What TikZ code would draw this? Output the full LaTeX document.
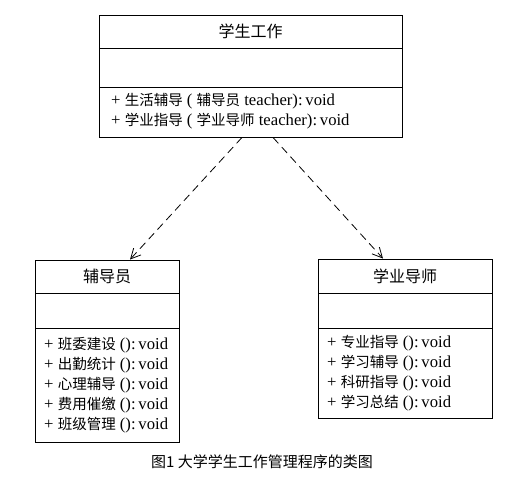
\documentclass[tikz,border=0pt]{standalone}
\usepackage{fontspec}
\setmainfont{Liberation Serif}[Scale=1.15]
\newfontfamily\zh{Noto Sans CJK SC}
\usetikzlibrary{arrows.meta}

\begin{document}
\begin{tikzpicture}[x=1pt, y=-1pt,
  part/.style={draw, line width=0.9pt, inner sep=0pt},
  title/.style={font=\zh\fontsize{16}{18}\selectfont},
  ops/.style={anchor=west, align=left, inner sep=0pt, font=\fontsize{14.5}{20}\selectfont},
  dep/.style={line width=0.8pt, dash pattern=on 8pt off 5pt, -{Straight Barb[length=10pt, width=10pt]}}]
%\draw [help lines, step=20] (0,0) grid (525,481);
\useasboundingbox (0,0) rectangle (525,481);

% student work
\node [part, minimum width=303pt, minimum height=33pt] (sw1) at (250.5,31.5) {};
\node [part, minimum width=303pt, minimum height=39pt] (sw2) at (250.5,67.5) {};
\node [part, minimum width=303pt, minimum height=50pt] (sw3) at (250.5,112) {};
\node [title] (swname) at (sw1) {学生工作};
\node [ops] (swops) at (111,111) {+ {\zh 生活辅导} ( {\zh 辅导员} teacher):\,void\\+ {\zh 学业指导} ( {\zh 学业导师} teacher):\,void};

% counsellor
\node [part, minimum width=144pt, minimum height=33pt] (fdy1) at (107,276.5) {};
\node [part, minimum width=144pt, minimum height=35pt] (fdy2) at (107,310.5) {};
\node [part, minimum width=144pt, minimum height=114pt] (fdy3) at (107,385) {};
\node [title] (fdyname) at (fdy1) {辅导员};
\node [ops] (fdyops) at (44,385) {+ {\zh 班委建设} ():\,void\\+ {\zh 出勤统计} ():\,void\\+ {\zh 心理辅导} ():\,void\\+ {\zh 费用催缴} ():\,void\\+ {\zh 班级管理} ():\,void};

% tutor
\node [part, minimum width=174pt, minimum height=34pt] (ds1) at (405,276) {};
\node [part, minimum width=174pt, minimum height=35pt] (ds2) at (405,310.5) {};
\node [part, minimum width=174pt, minimum height=90pt] (ds3) at (405,373) {};
\node [title] (dsname) at (ds1) {学业导师};
\node [ops] (dsops) at (327,373) {+ {\zh 专业指导} ():\,void\\+ {\zh 学习辅导} ():\,void\\+ {\zh 科研指导} ():\,void\\+ {\zh 学习总结} ():\,void};

\draw [dep] ([xshift=-8.5pt]sw3.south) -- ([xshift=23pt]fdy1.north);
\draw [dep] ([xshift=22.5pt]sw3.south) -- ([xshift=-22pt]ds1.north);

\node [font=\zh\fontsize{15}{17}\selectfont] (caption) at (262,462) {图1 大学学生工作管理程序的类图};

\end{tikzpicture}
\end{document}
